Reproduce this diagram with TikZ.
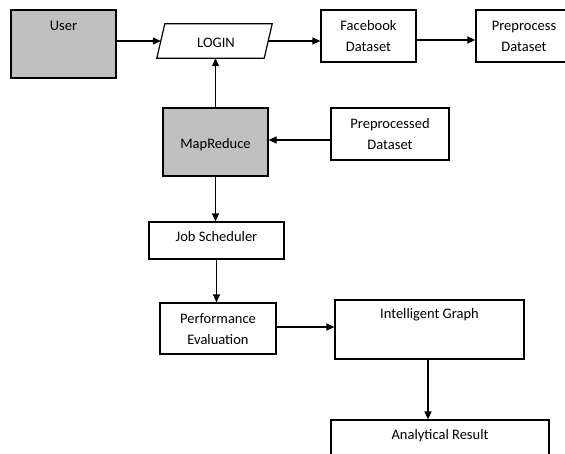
\documentclass[tikz,border=0pt]{standalone}
\usepackage{fontspec}
\setmainfont{Carlito}
\usetikzlibrary{arrows.meta}
\definecolor{boxgray}{HTML}{C0C0C0}
\tikzset{
  blk/.style={draw=black, line width=1.2pt, fill=white, rectangle, inner sep=0pt, align=center},
  shaded/.style={blk, fill=boxgray},
  ghost/.style={rectangle, inner sep=0pt},
  txt/.style={inner sep=0pt, font=\fontsize{14.5}{21}\selectfont},
  flow/.style={line width=1.2pt, -{Triangle[length=8pt,width=7pt]}}
}
\begin{document}
\begin{tikzpicture}[x=1pt, y=-1pt]
\useasboundingbox (0,0) rectangle (565,453);
\clip (0,0) rectangle (565,453);
\fill[white] (0,0) rectangle (565,453);

% User
\node[shaded, minimum width=105pt, minimum height=68pt] (user) at (63.5,44) {};
\node[txt] (usertxt) at (63.5,26) {User};

% LOGIN (parallelogram drawn around an invisible frame node)
\node[ghost, minimum width=107pt, minimum height=34pt] (login) at (214.5,41) {};
\draw[line width=1.2pt, fill=white]
  ([xshift=4pt]login.north west) -- ([xshift=4pt]login.north east)
  -- ([xshift=-4pt]login.south east) -- ([xshift=-4pt]login.south west) -- cycle;
\node[txt] (logintxt) at (216,43) {LOGIN};

% Facebook Dataset
\node[blk, minimum width=95pt, minimum height=52pt] (fb) at (368.5,36) {};
\node[txt, align=center] (fbtxt) at (368.5,36) {Facebook\\Dataset};

% Preprocess Dataset
\node[blk, minimum width=96pt, minimum height=52pt] (pp) at (524,36) {};
\node[txt, align=center] (pptxt) at (524,36) {Preprocess\\Dataset};

% MapReduce
\node[shaded, minimum width=105pt, minimum height=68pt] (mr) at (215.5,142) {};
\node[txt] (mrtxt) at (215.5,145) {MapReduce};

% Preprocessed Dataset
\node[blk, minimum width=118pt, minimum height=52pt] (ppd) at (390,134) {};
\node[txt, align=center] (ppdtxt) at (390,134) {Preprocessed\\Dataset};

% Job Scheduler
\node[blk, minimum width=135pt, minimum height=37pt] (js) at (216.5,240.5) {};
\node[txt] (jstxt) at (216.5,237) {Job Scheduler};

% Performance Evaluation
\node[blk, minimum width=116pt, minimum height=51pt] (pe) at (218,328.5) {};
\node[txt, align=center] (petxt) at (218,329) {Performance\\Evaluation};

% Intelligent Graph
\node[blk, minimum width=189pt, minimum height=59pt] (ig) at (429.5,329.5) {};
\node[txt] (igtxt) at (429.5,315) {Intelligent Graph};

% Analytical Result
\node[blk, minimum width=218pt, minimum height=60pt] (ar) at (440,450) {};
\node[txt] (artxt) at (440,436) {Analytical Result};

% Connectors
\draw[flow] (user.east |- login) -- (login.west);
\draw[flow] (login.east) -- (login.east -| fb.west);
\draw[flow] ([yshift=-4pt]fb.east) -- ([yshift=-4pt]fb.east -| pp.west);
\draw[flow] (mr.north) -- (mr.north |- login.south);
\draw[flow] ([yshift=-6pt]ppd.west) -- ([yshift=-6pt]ppd.west -| mr.east);
\draw[flow] (mr.south) -- (mr.south |- js.north);
\draw[flow] (js.south) -- (js.south |- pe.north);
\draw[flow] ([yshift=1.5pt]pe.east) -- ([yshift=1.5pt]pe.east -| ig.west);
\draw[flow] ([xshift=-1.5pt]ig.south) -- ([xshift=-1.5pt]ig.south |- ar.north);
\end{tikzpicture}
\end{document}
